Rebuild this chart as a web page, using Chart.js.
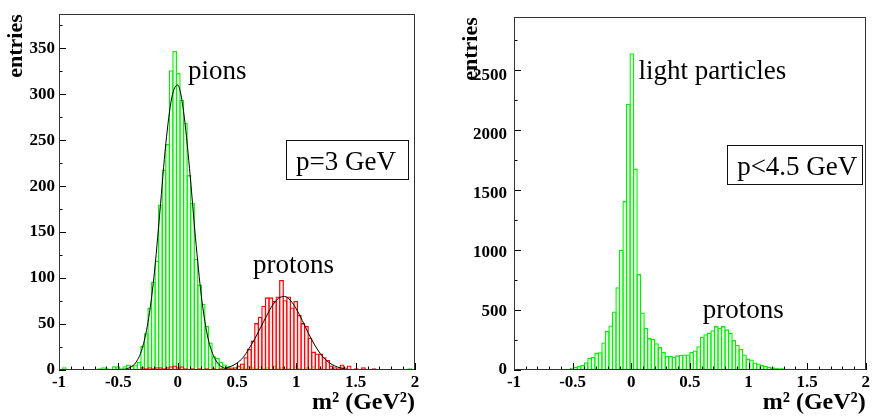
<!DOCTYPE html>
<html>
<head>
<meta charset="utf-8">
<script src="https://cdn.jsdelivr.net/npm/chart.js@4/dist/chart.umd.min.js"></script>
<style>
  html, body { margin: 0; padding: 0; background: #fff; }
  #wrap { position: relative; width: 872px; height: 416px; overflow: hidden; }
  .panel { position: absolute; top: 0; width: 436px; height: 416px; }
</style>
</head>
<body>
<div id="wrap">
  <div class="panel" style="left:0"><canvas id="left" width="436" height="416"></canvas></div>
  <div class="panel" style="left:436px"><canvas id="right" width="436" height="416"></canvas></div>
</div>
<script>
// Histogram binning: 100 bins of 0.03 GeV^2 from -1 to 2
const binStart = -1;
const binWidth = 0.03;

// p = 3 GeV sample: identified pions (green) and protons (red)
const pionCounts = [
  0, 3, 0, 1, 0, 0, 1, 0, 1, 0,
  1, 2, 3, 2, 1, 4, 4, 2, 4, 6,
  5, 6, 9, 26, 40, 68, 96, 119, 180, 218,
  246, 326, 347, 323, 294, 269, 212, 182, 121, 93,
  72, 48, 30, 15, 13, 9, 6, 4, 3, 2,
  4, 3, 2, 5, 3, 2, 4, 2, 3, 1,
  5, 2, 3, 1, 2, 1, 4, 2, 1, 3,
  2, 4, 1, 2, 0, 1, 2, 1, 0, 4,
  3, 1, 0, 1, 0, 0, 1, 0, 0, 1,
  0, 0, 1, 0, 0, 0, 1, 0, 2, 1
];
const protonCounts = [
  0, 0, 1, 0, 0, 0, 0, 1, 0, 0,
  0, 1, 0, 0, 1, 0, 0, 1, 0, 1,
  0, 1, 1, 3, 2, 3, 2, 3, 3, 2,
  3, 4, 5, 3, 4, 2, 1, 2, 1, 2,
  1, 2, 1, 2, 1, 2, 1, 2, 2, 3,
  5, 7, 14, 23, 32, 51, 58, 70, 79, 79,
  75, 80, 98, 76, 80, 68, 75, 60, 51, 48,
  35, 20, 18, 18, 14, 11, 5, 3, 2, 6,
  2, 5, 1, 2, 1, 3, 0, 1, 2, 0,
  1, 0, 1, 0, 1, 0, 0, 1, 0, 1
];

// Gaussian fits drawn over the two peaks
const pionFitX = [-0.50, -0.45, -0.40, -0.35, -0.30, -0.25, -0.20, -0.15, -0.10, -0.05, 0.00, 0.05, 0.10, 0.15, 0.20, 0.25, 0.30, 0.35, 0.40, 0.45, 0.50];
const pionFitY = [0.2, 0.8, 2.8, 8.6, 23, 52, 101, 172, 246, 296, 310, 281, 219, 144, 80, 38, 16, 5.6, 1.7, 0.4, 0.1];
const protonFitX = [0.40, 0.45, 0.50, 0.55, 0.60, 0.65, 0.70, 0.75, 0.80, 0.85, 0.90, 0.95, 1.00, 1.05, 1.10, 1.15, 1.20, 1.25, 1.30, 1.35, 1.40];
const protonFitY = [2.0, 4.0, 7.6, 13.4, 23, 34, 46.5, 59, 70.6, 78, 80, 75.7, 66.4, 53.9, 40.5, 28.2, 18.2, 10.8, 6.0, 3.1, 1.4];

// p < 4.5 GeV sample: all tracks
const allCounts = [
  3, 5, 4, 6, 3, 5, 4, 2, 5, 6,
  5, 8, 6, 10, 11, 11, 19, 27, 33, 42,
  65, 103, 108, 145, 149, 230, 325, 371, 488, 691,
  1003, 1409, 2222, 2642, 1680, 800, 480, 352, 266, 260,
  224, 191, 150, 118, 118, 110, 122, 127, 130, 130,
  150, 163, 199, 277, 298, 312, 331, 366, 352, 366,
  339, 312, 250, 211, 176, 130, 95, 87, 62, 54,
  41, 35, 27, 22, 19, 14, 14, 11, 11, 8,
  6, 5, 4, 6, 9, 7, 5, 4, 5, 3,
  4, 5, 3, 4, 5, 3, 4, 3, 4, 3
];

// Axis tick labels
const xTickLabels = ['-1', '-0.5', '0', '0.5', '1', '1.5', '2'];
const leftYTickLabels = ['0', '50', '100', '150', '200', '250', '300', '350'];
const rightYTickLabels = ['0', '500', '1000', '1500', '2000', '2500'];

const binCenters = pionCounts.map((_, i) => +(binStart + binWidth * (i + 0.5)).toFixed(3));
const toBins = counts => counts.map((c, i) => ({ x: binCenters[i], y: c }));
const toCurve = (xs, ys) => xs.map((x, i) => ({ x, y: ys[i] }));

const SERIF = '"Liberation Serif", "Times New Roman", serif';

// Frame with inward major/minor ticks, text labels and a boxed caption
const rootFrame = {
  id: 'rootFrame',
  afterDraw(chart, args, o) {
    const { ctx, chartArea: a, scales: { x, y } } = chart;
    ctx.save();
    ctx.strokeStyle = '#000';
    ctx.lineWidth = 1;
    ctx.beginPath();
    const nx = Math.round((x.max - x.min) / o.xMinor);
    for (let i = 0; i <= nx; i++) {
      const v = x.min + i * o.xMinor;
      const major = Math.abs(v / o.xMajor - Math.round(v / o.xMajor)) < 1e-6;
      const px = Math.round(x.getPixelForValue(v)) + 0.5;
      ctx.moveTo(px, a.bottom);
      ctx.lineTo(px, a.bottom - (major ? 7 : 3.5));
    }
    const ny = Math.floor((y.max - y.min) / o.yMinor + 1e-6);
    for (let i = 0; i <= ny; i++) {
      const v = y.min + i * o.yMinor;
      const major = Math.abs(v / o.yMajor - Math.round(v / o.yMajor)) < 1e-6;
      const py = Math.round(y.getPixelForValue(v)) + 0.5;
      ctx.moveTo(a.left, py);
      ctx.lineTo(a.left + (major ? 7 : 3.5), py);
    }
    ctx.stroke();

    ctx.strokeStyle = '#333';
    ctx.strokeRect(Math.round(a.left) + 0.5, Math.round(a.top) + 0.5,
                   Math.round(a.right - a.left) - 1, Math.round(a.bottom - a.top) - 1);

    ctx.fillStyle = '#000';
    ctx.font = '27px ' + SERIF;
    ctx.textBaseline = 'alphabetic';
    ctx.textAlign = 'left';
    for (const n of o.notes) {
      ctx.fillText(n.text, x.getPixelForValue(n.x), y.getPixelForValue(n.y));
    }
    const b = o.box;
    const bx0 = Math.round(x.getPixelForValue(b.x0)) + 0.5;
    const bx1 = Math.round(x.getPixelForValue(b.x1)) + 0.5;
    const by0 = Math.round(y.getPixelForValue(b.y0)) + 0.5;
    const by1 = Math.round(y.getPixelForValue(b.y1)) + 0.5;
    ctx.fillStyle = '#fff';
    ctx.fillRect(bx0, by0, bx1 - bx0, by1 - by0);
    ctx.strokeStyle = '#111';
    ctx.strokeRect(bx0, by0, bx1 - bx0, by1 - by0);
    ctx.fillStyle = '#000';
    ctx.fillText(b.text, x.getPixelForValue(b.tx), y.getPixelForValue(b.ty));
    ctx.restore();
  }
};

function makePanel(id, cfg) {
  const tickFont = { family: SERIF, size: 17, weight: 'bold' };
  const titleFont = { family: SERIF, size: 22, weight: 'bold' };
  return new Chart(document.getElementById(id), {
    type: 'bar',
    data: { datasets: cfg.datasets },
    options: {
      responsive: false,
      animation: false,
      layout: { padding: { top: 8, right: cfg.padRight, left: 0, bottom: 0 } },
      plugins: {
        legend: { display: false },
        tooltip: { enabled: false },
        rootFrame: cfg.frame
      },
      scales: {
        x: {
          type: 'linear', min: -1, max: 2, offset: false,
          grid: { display: false, drawTicks: false },
          border: { display: false },
          ticks: {
            stepSize: 0.5, includeBounds: false, autoSkip: false, maxRotation: 0,
            padding: 2, color: '#000', font: tickFont,
            callback: (v, i) => xTickLabels[i]
          },
          title: { display: true, text: 'm² (GeV²)', align: 'end', color: '#000',
                   font: { family: SERIF, size: 24, weight: 'bold' }, padding: { top: 0, bottom: -1 } },
          afterFit: s => { s.height = 46; }
        },
        y: {
          type: 'linear', min: 0, max: cfg.yMax,
          grid: { display: false, drawTicks: false },
          border: { display: false },
          ticks: {
            stepSize: cfg.yStep, includeBounds: false, autoSkip: false,
            padding: cfg.yTickPad, color: '#000', font: tickFont,
            callback: (v, i) => cfg.yLabels[i]
          },
          title: { display: true, text: 'entries', align: 'end', color: '#000',
                   font: titleFont, padding: { top: cfg.yTitlePad, bottom: 0 } },
          afterFit: s => { s.width = cfg.yWidth; }
        }
      }
    },
    plugins: [rootFrame]
  });
}

// Open bins whose outlines overlap by one border width, so neighbours share an edge
const EDGE = 1.3;
const barStyle = (counts, border, fill, order) => ({
  type: 'bar', data: toBins(counts), grouped: false, order,
  borderColor: border, backgroundColor: fill, borderWidth: EDGE,
  barPercentage: 1 + EDGE / 3.56, categoryPercentage: 1
});
const curveStyle = (xs, ys) => ({
  type: 'line', data: toCurve(xs, ys), order: 0,
  borderColor: '#000', borderWidth: 1, pointRadius: 0,
  cubicInterpolationMode: 'monotone', fill: false
});

makePanel('left', {
  yMax: 387, yStep: 50, yLabels: leftYTickLabels, yWidth: 59, yTickPad: 4, yTitlePad: 3, padRight: 21,
  datasets: [
    curveStyle(pionFitX, pionFitY),
    curveStyle(protonFitX, protonFitY),
    barStyle(protonCounts, '#ff0000', 'rgba(255,190,190,0.3)', 1),
    barStyle(pionCounts, '#00f000', 'rgba(190,255,190,0.3)', 2)
  ],
  frame: {
    xMajor: 0.5, xMinor: 0.1, yMajor: 50, yMinor: 25,
    notes: [
      { text: 'pions', x: 0.087, y: 316 },
      { text: 'protons', x: 0.635, y: 105 }
    ],
    box: { text: 'p=3 GeV', x0: 0.91, x1: 1.94, y0: 250, y1: 208, tx: 0.997, ty: 217 }
  }
});

makePanel('right', {
  yMax: 2943, yStep: 500, yLabels: rightYTickLabels, yWidth: 78, yTickPad: 7, yTitlePad: 22, padRight: 2,
  datasets: [
    barStyle(allCounts, '#00f000', 'rgba(190,255,190,0.3)', 1)
  ],
  frame: {
    xMajor: 0.5, xMinor: 0.1, yMajor: 500, yMinor: 250,
    notes: [
      { text: 'light particles', x: 0.062, y: 2431 },
      { text: 'protons', x: 0.609, y: 433 }
    ],
    box: { text: 'p<4.5 GeV', x0: 0.814, x1: 1.972, y0: 1876, y1: 1551, tx: 0.903, ty: 1626 }
  }
});
</script>
</body>
</html>
